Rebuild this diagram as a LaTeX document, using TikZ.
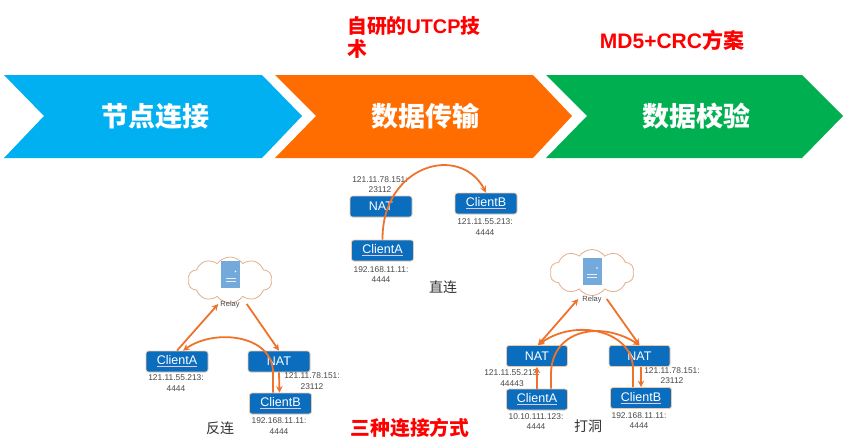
\documentclass[tikz,border=0pt]{standalone}
\usepackage{fontspec}
\setmainfont{Liberation Sans}
\newfontfamily\cjk{Noto Sans CJK SC}
\usetikzlibrary{shapes.symbols,arrows.meta}
\definecolor{cblue}{HTML}{00B0F0}
\definecolor{corange}{HTML}{FF6D00}
\definecolor{cgreen}{HTML}{00B050}
\definecolor{boxblue}{HTML}{0A6DBE}
\definecolor{boxline}{HTML}{F0C8A8}
\definecolor{arrowc}{HTML}{F0722A}
\definecolor{ulc}{HTML}{E8C8E0}
\definecolor{labelc}{HTML}{484848}
\definecolor{cloudc}{HTML}{E2AE8E}
\definecolor{srv}{HTML}{5B9BD5}
\newcommand{\ulname}[1]{\textcolor{ulc}{$\underline{\hbox{\textcolor{white}{#1}}}$}}
\newcommand{\lat}[1]{{\rmfamily\bfseries #1}}
\tikzset{
  x=1pt,y=-1pt,
  chevtext/.style={text=white,font=\cjk\bfseries\fontsize{27}{27}\selectfont,inner sep=0pt},
  redtext/.style={text=red,font=\cjk\bfseries\fontsize{19.8}{23}\selectfont,inner sep=0pt},
  netbox/.style={draw=boxline,fill=boxblue,rounded corners=2.5pt,line width=0.8pt,minimum width=62pt,minimum height=21pt,inner sep=0pt,text=white,font=\fontsize{12.5}{13}\selectfont},
  addr/.style={text=labelc,font=\fontsize{8.4}{10.6}\selectfont,align=center,inner sep=0pt},
  captext/.style={text=black!80,font=\cjk\fontsize{14}{14}\selectfont,inner sep=0pt},
  cloudn/.style={cloud,cloud puffs=10,cloud puff arc=110,aspect=1.9,draw=cloudc,fill=white,line width=0.8pt,minimum width=84pt,minimum height=46pt,inner sep=0pt},
  srvbox/.style={fill=srv!85,minimum width=19pt,minimum height=27pt,inner sep=0pt},
  relayt/.style={text=labelc,font=\fontsize{7.5}{8}\selectfont,inner sep=0pt},
  conn/.style={draw=arrowc,line width=1.8pt,-{Stealth[length=6.5pt,width=6.5pt]}},
  conntwo/.style={draw=arrowc,line width=1.8pt,{Stealth[length=6.5pt,width=6.5pt]}-{Stealth[length=6.5pt,width=6.5pt]}}
}
\newcommand{\serverlines}[1]{%
  \fill[white] ([xshift=5pt,yshift=3pt]#1.center) circle (0.9pt);
  \fill[white!85!srv] ([xshift=-5pt,yshift=-3pt]#1.center) rectangle ([xshift=5pt,yshift=-4pt]#1.center);
  \fill[white!85!srv] ([xshift=-5pt,yshift=-6pt]#1.center) rectangle ([xshift=5pt,yshift=-7pt]#1.center);
}
\begin{document}
\begin{tikzpicture}
\useasboundingbox (0,0) rectangle (848,445);
% chevrons
\fill[cblue] (4,75) -- (262,75) -- (302,116) -- (262,158) -- (4,158) -- (44,116) -- cycle;
\fill[corange] (275,75) -- (533,75) -- (572,116) -- (533,158) -- (275,158) -- (316,116) -- cycle;
\fill[cgreen] (546,75) -- (802,75) -- (843,116) -- (802,158) -- (546,158) -- (587,116) -- cycle;
\node[chevtext] (c1) at (155,116) {节点连接};
\node[chevtext] (c2) at (425,116) {数据传输};
\node[chevtext] (c3) at (696,116) {数据校验};
% red headings
\node[redtext,anchor=north west,align=left] (h1) at (347,16) {自研的\lat{UTCP}技\\术};
\node[redtext,font=\cjk\bfseries\fontsize{21}{23}\selectfont] (h2) at (672,40) {\lat{MD5+CRC}方案};
\node[redtext] (h3) at (410,428) {三种连接方式};

% direct
\node[netbox] (dNat) at (381,206.5) {NAT};
\node[netbox] (dA) at (382.5,250.5) {\ulname{ClientA}};
\node[netbox] (dB) at (486,203.5) {\ulname{ClientB}};
\node[addr] (dNatL) at (380,184.5) {121.11.78.151:\\23112};
\node[addr] (dBL) at (485,227) {121.11.55.213:\\4444};
\node[addr] (dAL) at (381,274.5) {192.168.11.11:\\4444};
\node[captext] (dCap) at (443,287) {直连};
\draw[conn] (dA.north) .. controls (382,165) and (460,143) .. (dB.north);

% reverse
\node[cloudn] (rCloud) at (230,280) {};
\node[srvbox] (rSrv) at (230.5,274.5) {};
\serverlines{rSrv}
\node[relayt] (rRelay) at (230,305) {Relay};
\node[netbox] (rA) at (177,361.5) {\ulname{ClientA}};
\node[netbox] (rNat) at (279,361.5) {NAT};
\node[netbox] (rB) at (280.5,403.5) {\ulname{ClientB}};
\node[addr] (rAL) at (176,383) {121.11.55.213:\\4444};
\node[addr] (rNatL) at (312,381) {121.11.78.151:\\23112};
\node[addr] (rBL) at (279,426) {192.168.11.11:\\4444};
\node[captext] (rCap) at (220,428) {反连};
\draw[conn] (rA.north) -- ([xshift=-2pt,yshift=1pt]rRelay.west);
\draw[conn] ([xshift=7pt,yshift=1pt]rRelay.east) -- (rNat.north);
\draw[conn] (rNat.south) -- ([xshift=-1pt]rB.north);
\draw[conn] ([xshift=-7.5pt]rB.north) -- ++(0,-20) .. controls (273,335) and (215,328) .. ([xshift=6pt]rA.north);

% hole punching
\node[cloudn] (hCloud) at (592,272.5) {};
\node[srvbox] (hSrv) at (592,271) {};
\serverlines{hSrv}
\node[relayt] (hRelay) at (592,300) {Relay};
\node[netbox,minimum width=61pt] (hN1) at (537,356) {NAT};
\node[netbox,minimum width=61pt] (hN2) at (639.5,356) {NAT};
\node[netbox,minimum width=61pt] (hA) at (537,399.5) {\ulname{ClientA}};
\node[netbox,minimum width=61pt] (hB) at (641,398) {\ulname{ClientB}};
\node[addr] (hN1L) at (512,378) {121.11.55.213:\\44443};
\node[addr] (hN2L) at (672,375.5) {121.11.78.151:\\23112};
\node[addr] (hAL) at (536,421.5) {10.10.111.123:\\4444};
\node[addr] (hBL) at (639,420.5) {192.168.11.11:\\4444};
\node[captext] (hCap) at (588,426) {打洞};
\draw[conntwo] ([xshift=1pt]hN1.north) -- ([xshift=-4pt,yshift=1pt]hRelay.west);
\draw[conn] ([xshift=5pt,yshift=1pt]hRelay.east) -- (hN2.north);
\draw[conn] (hA.north) -- (hN1.south);
\draw[conn] (hN2.south -| hB.north) -- (hB.north);
\draw[conn] ([xshift=14pt]hA.north) -- ++(0,-14) .. controls (551,330) and (600,320) .. (hN2.north);
\draw[conn] ([xshift=-8pt]hB.north) -- ++(0,-18) .. controls (633,330) and (575,318) .. ([xshift=1pt]hN1.north);
\end{tikzpicture}
\end{document}
